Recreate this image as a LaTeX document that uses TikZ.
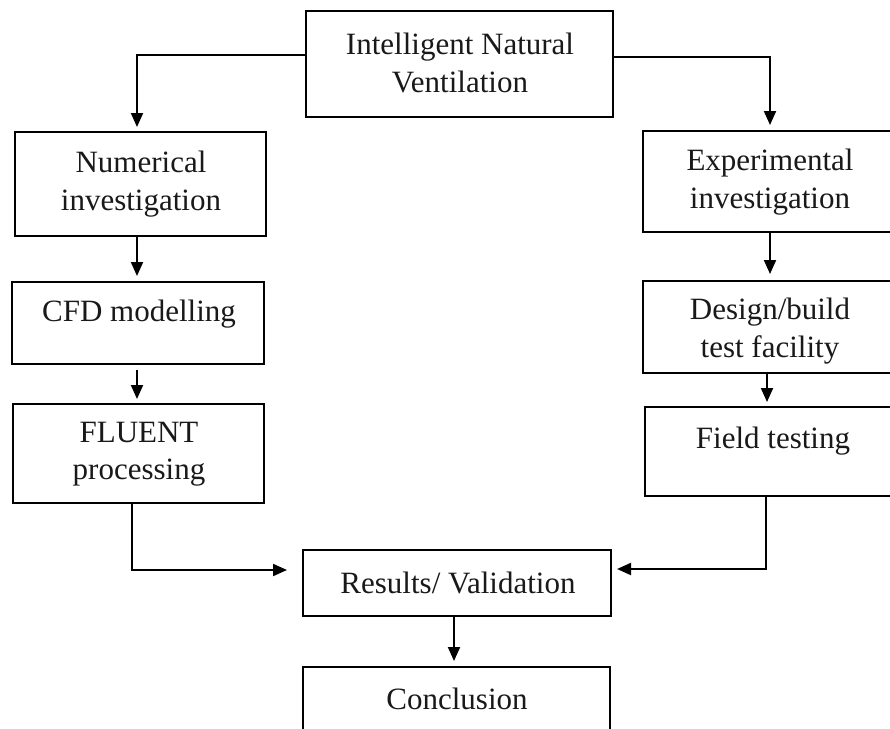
\documentclass[tikz,border=0pt]{standalone}
\usepackage{fontspec}
\setmainfont{Liberation Serif}
\usetikzlibrary{arrows.meta}
\begin{document}
\begin{tikzpicture}[x=1pt,y=-1pt,
  box/.style={draw=black,line width=2pt,rectangle,inner sep=0pt,fill=none},
  txt/.style={align=center,inner sep=0pt,text=black!90,font=\fontsize{31}{37.5}\selectfont},
  arr/.style={draw=black,line width=2pt,-{Triangle[length=14pt,width=12pt]}}]
\fill[white] (0,0) rectangle (890,728);
\useasboundingbox (0,0) rectangle (890,728);
\clip (0,0) rectangle (890,728);
% boxes
\node[box,minimum width=307pt,minimum height=106pt] (top) at (459.5,64) {};
\node[box,minimum width=251pt,minimum height=104pt] (num) at (140.5,184) {};
\node[box,minimum width=252pt,minimum height=82pt] (cfd) at (138,323) {};
\node[box,minimum width=251pt,minimum height=99pt] (flu) at (138.5,453.5) {};
\node[box,minimum width=254pt,minimum height=101pt] (exp) at (770,181.5) {};
\node[box,minimum width=254pt,minimum height=92pt] (des) at (770,327) {};
\node[box,minimum width=255pt,minimum height=89pt] (fld) at (772.5,451.5) {};
\node[box,minimum width=308pt,minimum height=66pt] (res) at (457,583) {};
\node[box,minimum width=307pt,minimum height=78pt] (con) at (456.5,706) {};
% texts
\node[txt] (ttop) at (460,63) {Intelligent Natural\\Ventilation};
\node[txt] (tnum) at (141,184) {Numerical\\investigation};
\node[txt] (tcfd) at (139,314) {CFD modelling};
\node[txt] (tflu) at (139,454) {FLUENT\\processing};
\node[txt] (texp) at (770,182) {Experimental\\investigation};
\node[txt] (tdes) at (770,331) {Design/build\\test facility};
\node[txt] (tfld) at (773,441) {Field testing};
\node[txt] (tres) at (458,583) {Results/ Validation};
\node[txt] (tcon) at (457,699) {Conclusion};
% connectors
\draw[arr,shorten >=4pt] ([yshift=9pt]top.west) -| ([xshift=-3.5pt]num.north);
\draw[arr,shorten >=5pt] ([yshift=7pt]top.east) -| (exp.north);
\draw[arr,shorten >=5pt] ([xshift=-3.5pt]num.south) -- ([xshift=-3.5pt]num.south |- cfd.north);
\draw[arr,shorten <=5pt,shorten >=4pt] ([xshift=-1pt]cfd.south) -- ([xshift=-1pt]cfd.south |- flu.north);
\draw[arr,shorten >=15pt] ([xshift=-6.5pt]flu.south) |- ([yshift=13pt]res.west);
\draw[arr,shorten >=6pt] (exp.south) -- (exp.south |- des.north);
\draw[arr,shorten >=4pt] ([xshift=-3pt]des.south) -- ([xshift=-3pt]des.south |- fld.north);
\draw[arr,shorten >=5pt] ([xshift=-6.5pt]fld.south) |- ([yshift=14pt]res.east);
\draw[arr,shorten >=5pt] ([xshift=-3pt]res.south) -- ([xshift=-3pt]res.south |- con.north);
\end{tikzpicture}
\end{document}
